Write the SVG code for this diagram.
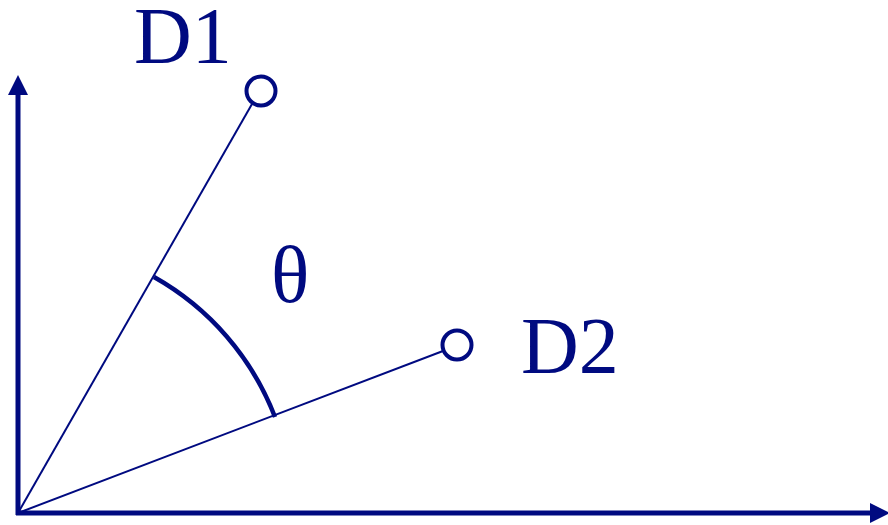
<svg xmlns="http://www.w3.org/2000/svg" width="888" height="525" viewBox="0 0 888 525">
<defs>
<style>
.ax{stroke:#000a80;stroke-width:5;fill:none}
.ln{stroke:#000a80;stroke-width:2;fill:none}
.pt{stroke:#000a80;stroke-width:4;fill:#fff}
.arc{stroke:#000a80;stroke-width:4.5;fill:none}
.lb{font-family:"Liberation Serif","Times New Roman",serif;font-size:80px;fill:#000a80}
.hd{fill:#000a80}
</style>
</defs>
<g id="axes">
<line class="ax" x1="18" y1="515" x2="18" y2="90"/>
<polygon class="hd" points="18,75 8,95 28,95"/>
<line class="ax" x1="16" y1="513" x2="875" y2="513"/>
<polygon class="hd" points="890,513 870,503 870,523"/>
</g>
<g id="connectors">
<line class="ln" x1="18" y1="513" x2="252" y2="104"/>
<line class="ln" x1="18" y1="513" x2="443" y2="351"/>
<path class="arc" d="M154,277 A273,273 0 0 1 275,417"/>
</g>
<g id="D1">
<circle class="pt" cx="261" cy="91" r="14.5"/>
<text class="lb" x="134" y="63">D1</text>
</g>
<g id="D2">
<circle class="pt" cx="457" cy="345" r="14.5"/>
<text class="lb" x="521" y="373">D2</text>
</g>
<g id="theta">
<text class="lb" x="271" y="302">θ</text>
</g>
</svg>
